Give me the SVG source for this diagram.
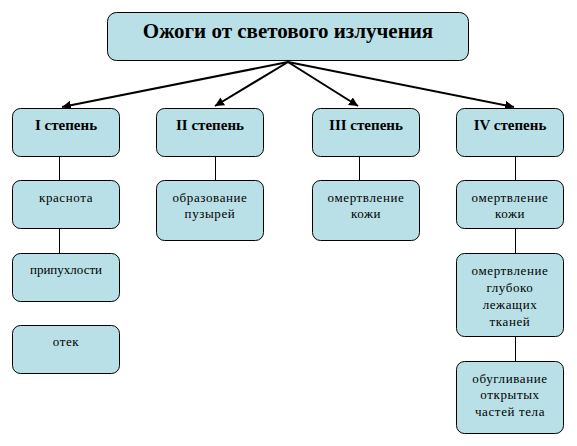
<svg xmlns="http://www.w3.org/2000/svg" width="577" height="446" viewBox="0 0 577 446">
<defs>
<marker id="ah" viewBox="0 0 10 10" refX="10" refY="5" markerWidth="9" markerHeight="9" markerUnits="userSpaceOnUse" orient="auto">
<path d="M0,0 L10,5 L0,10 z" fill="#000"/>
</marker>
</defs>
<style>
.box{fill:#b9e0e6;stroke:#000;stroke-width:1}
.t{font-family:"Liberation Serif","Tinos","DejaVu Serif",serif;font-size:13px;fill:#000;text-anchor:middle;letter-spacing:0.6px}
.h{font-family:"Liberation Serif","Tinos","DejaVu Serif",serif;font-size:15px;font-weight:bold;fill:#000;text-anchor:middle}
.title{font-family:"Liberation Serif","Tinos","DejaVu Serif",serif;font-size:21px;font-weight:bold;fill:#000;text-anchor:middle}
.ln{stroke:#000;stroke-width:1;fill:none}
.ar{stroke:#000;stroke-width:2;fill:none;marker-end:url(#ah)}
</style>
<rect width="577" height="446" fill="#fff"/>
<g id="connectors">
<line class="ar" x1="288" y1="62" x2="62" y2="107"/>
<line class="ar" x1="288" y1="62" x2="215" y2="106"/>
<line class="ar" x1="288" y1="62" x2="358" y2="106"/>
<line class="ar" x1="288" y1="62" x2="514" y2="107"/>
<line class="ln" x1="59.5" y1="156" x2="59.5" y2="180"/>
<line class="ln" x1="59.5" y1="229" x2="59.5" y2="253"/>
<line class="ln" x1="215.5" y1="156" x2="215.5" y2="180"/>
<line class="ln" x1="359.5" y1="156" x2="359.5" y2="180"/>
<line class="ln" x1="515.5" y1="156" x2="515.5" y2="180"/>
<line class="ln" x1="515.5" y1="229" x2="515.5" y2="253"/>
<line class="ln" x1="515.5" y1="337" x2="515.5" y2="361"/>
</g>
<g id="title">
<rect class="box" x="107.5" y="12.5" width="361" height="48" rx="9"/>
<text class="title" x="288" y="38">Ожоги от светового излучения</text>
</g>
<g id="deg1">
<rect class="box" x="12.5" y="108.5" width="107" height="48" rx="8"/>
<text class="h" x="66" y="130">I степень</text>
</g>
<g id="deg2">
<rect class="box" x="156.5" y="108.5" width="107" height="48" rx="8"/>
<text class="h" x="210" y="130">II степень</text>
</g>
<g id="deg3">
<rect class="box" x="312.5" y="108.5" width="107" height="48" rx="8"/>
<text class="h" x="366" y="130">III степень</text>
</g>
<g id="deg4">
<rect class="box" x="456.5" y="108.5" width="107" height="48" rx="8"/>
<text class="h" x="510" y="130">IV степень</text>
</g>
<g id="n1a">
<rect class="box" x="12.5" y="180.5" width="107" height="48" rx="8"/>
<text class="t" x="66" y="202">краснота</text>
</g>
<g id="n1b">
<rect class="box" x="12.5" y="253.5" width="107" height="48" rx="8"/>
<text class="t" x="66" y="274" style="letter-spacing:0">припухлости</text>
</g>
<g id="n1c">
<rect class="box" x="12.5" y="325.5" width="107" height="48" rx="8"/>
<text class="t" x="66" y="346">отек</text>
</g>
<g id="n2a">
<rect class="box" x="156.5" y="180.5" width="107" height="60" rx="8"/>
<text class="t" x="210" y="202">образование</text>
<text class="t" x="210" y="218">пузырей</text>
</g>
<g id="n3a">
<rect class="box" x="312.5" y="180.5" width="107" height="60" rx="8"/>
<text class="t" x="366" y="202">омертвление</text>
<text class="t" x="366" y="218">кожи</text>
</g>
<g id="n4a">
<rect class="box" x="456.5" y="180.5" width="107" height="48" rx="8"/>
<text class="t" x="510" y="202">омертвление</text>
<text class="t" x="510" y="218">кожи</text>
</g>
<g id="n4b">
<rect class="box" x="456.5" y="253.5" width="107" height="83" rx="8"/>
<text class="t" x="510" y="275">омертвление</text>
<text class="t" x="510" y="292">глубоко</text>
<text class="t" x="510" y="309">лежащих</text>
<text class="t" x="510" y="326">тканей</text>
</g>
<g id="n4c">
<rect class="box" x="456.5" y="361.5" width="107" height="72" rx="8"/>
<text class="t" x="510" y="383">обугливание</text>
<text class="t" x="510" y="399">открытых</text>
<text class="t" x="510" y="416">частей тела</text>
</g>
</svg>
